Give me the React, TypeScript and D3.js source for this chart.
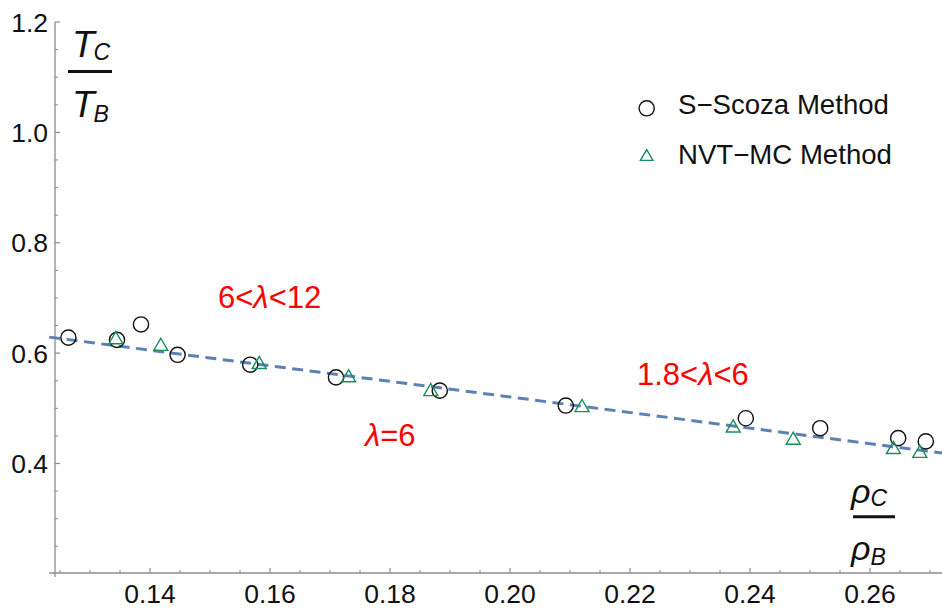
import React from "react";
import * as d3 from "d3";

const scozaX = [0.1264, 0.1345, 0.1385, 0.1446, 0.1567, 0.1710, 0.1883, 0.2093, 0.2393, 0.2517, 0.2647, 0.2693];
const scozaY = [0.628, 0.624, 0.652, 0.597, 0.579, 0.556, 0.532, 0.505, 0.482, 0.464, 0.446, 0.440];
const nvtX = [0.1343, 0.1418, 0.1582, 0.1731, 0.1868, 0.2120, 0.2372, 0.2472, 0.2639, 0.2683];
const nvtY = [0.628, 0.616, 0.583, 0.559, 0.534, 0.505, 0.468, 0.446, 0.429, 0.422];
const fitX = [0.1232, 0.2720];
const fitY = [0.629, 0.419];
const xTicks = [0.14, 0.16, 0.18, 0.2, 0.22, 0.24, 0.26];
const yTicks = [0.4, 0.6, 0.8, 1.0, 1.2];
const legendLabels = ["S\u2212Scoza Method", "NVT\u2212MC Method"];

const W = 942, H = 608;
const FONT = "'Liberation Sans', Arial, sans-serif";
const GREEN = "#1a8f5a";
const AXIS = "#8c8c8c";

export default function App() {
  const x = d3.scaleLinear().domain([0.14, 0.26]).range([150, 870]);
  const y = d3.scaleLinear().domain([0.4, 1.2]).range([463.5, 22]);
  const axisX = x.invert(55);
  const axisY = y.invert(573);
  const xMinor = d3.range(0.125, 0.2721, 0.005).filter(v => !xTicks.some(t => Math.abs(t - v) < 1e-6));
  const yMinor = d3.range(0.25, 1.2, 0.05).filter(v => !yTicks.some(t => Math.abs(t - v) < 1e-6));
  const ax = x(axisX), ay = y(axisY);
  const line = d3.line<number>().x((_, i) => x(fitX[i])).y((_, i) => y(fitY[i]));
  const tri = (cx: number, cy: number, s: number) => {
    const h = s * 0.866;
    return `M${cx},${cy - h / 2}L${cx + s / 2},${cy + h / 2}L${cx - s / 2},${cy + h / 2}Z`;
  };
  return (
    <svg width={W} height={H} style={{ position: "absolute", left: 0, top: 0, background: "#fff" }} fontFamily={FONT}>
      {/* axes */}
      <line x1={49} x2={W} y1={ay} y2={ay} stroke={AXIS} strokeWidth={1.3} />
      <line x1={ax} x2={ax} y1={y(1.2)} y2={ay + 4} stroke={AXIS} strokeWidth={1.3} />
      {xTicks.map(t => (
        <g key={"xt" + t}>
          <line x1={x(t)} x2={x(t)} y1={ay} y2={ay - 5} stroke={AXIS} strokeWidth={1.2} />
          <text x={x(t)} y={603} textAnchor="middle" fontSize={26.5} fill="#111">{d3.format(".2f")(t)}</text>
        </g>
      ))}
      {xMinor.map(t => (
        <line key={"xm" + t} x1={x(t)} x2={x(t)} y1={ay} y2={ay - 3} stroke={AXIS} strokeWidth={1} />
      ))}
      {yTicks.map(t => (
        <g key={"yt" + t}>
          <line x1={ax} x2={ax + 5} y1={y(t)} y2={y(t)} stroke={AXIS} strokeWidth={1.2} />
          <text x={48} y={y(t) + 9.5} textAnchor="end" fontSize={26.5} fill="#111">{d3.format(".1f")(t)}</text>
        </g>
      ))}
      {yMinor.map(t => (
        <line key={"ym" + t} x1={ax} x2={ax + 3} y1={y(t)} y2={y(t)} stroke={AXIS} strokeWidth={1} />
      ))}

      {/* fit line */}
      <path d={line(fitX) || ""} fill="none" stroke="#5e81b5" strokeWidth={3} strokeDasharray="11,6.5" />

      {/* markers */}
      {scozaX.map((v, i) => (
        <circle key={"c" + i} cx={x(v)} cy={y(scozaY[i])} r={7.6} fill="none" stroke="#111" strokeWidth={1.4} />
      ))}
      {nvtX.map((v, i) => (
        <path key={"t" + i} d={tri(x(v), y(nvtY[i]), 14)} fill="none" stroke={GREEN} strokeWidth={1.4} />
      ))}

      {/* legend */}
      <circle cx={646.7} cy={108.3} r={7.6} fill="none" stroke="#111" strokeWidth={1.4} />
      <text x={678} y={113.5} fontSize={27.6} fill="#111">{legendLabels[0]}</text>
      <path d={tri(646.7, 155, 12.5)} fill="none" stroke={GREEN} strokeWidth={1.4} />
      <text x={678} y={163.5} fontSize={27.6} fill="#111">{legendLabels[1]}</text>

      {/* annotations */}
      <text x={218} y={308} fontSize={31} fill="#ff0000">6&lt;<tspan fontStyle="italic">λ</tspan>&lt;12</text>
      <text x={637} y={385} fontSize={31} fill="#ff0000">1.8&lt;<tspan fontStyle="italic">λ</tspan>&lt;6</text>
      <text x={365} y={446} fontSize={31} fill="#ff0000"><tspan fontStyle="italic">λ</tspan>=6</text>

      {/* y label */}
      <text x={72} y={57} fontSize={37} fontStyle="italic" fill="#111">T<tspan fontSize={23} dy={3} dx={-1}>C</tspan></text>
      <line x1={68} x2={112} y1={71.5} y2={71.5} stroke="#111" strokeWidth={3} />
      <text x={72} y={117} fontSize={37} fontStyle="italic" fill="#111">T<tspan fontSize={23} dy={5} dx={-1}>B</tspan></text>

      {/* x label */}
      <text x={851} y={503} fontSize={34} fontStyle="italic" fill="#111">ρ<tspan fontSize={23} dy={3}>C</tspan></text>
      <line x1={853} x2={895} y1={516.7} y2={516.7} stroke="#111" strokeWidth={3} />
      <text x={851} y={560} fontSize={34} fontStyle="italic" fill="#111">ρ<tspan fontSize={23} dy={5}>B</tspan></text>
    </svg>
  );
}
